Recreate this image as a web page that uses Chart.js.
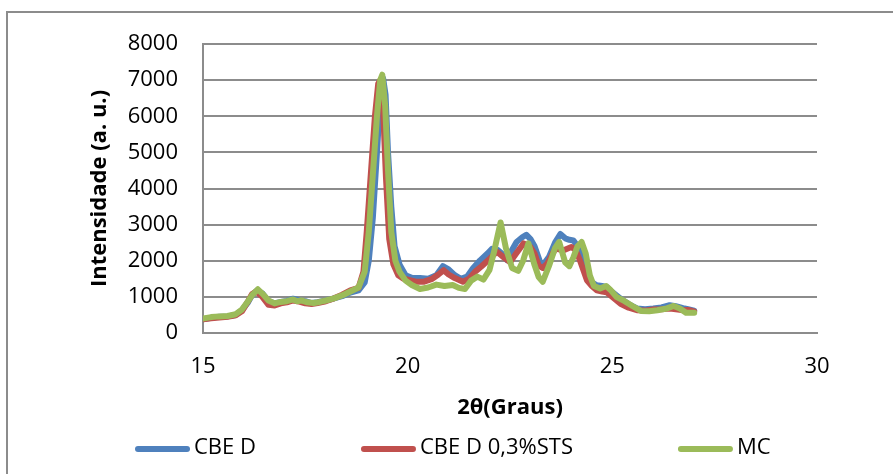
<!DOCTYPE html>
<html>
<head>
<meta charset="utf-8">
<script src="https://cdn.jsdelivr.net/npm/chart.js@4.4.1/dist/chart.umd.min.js"></script>
<style>
  html, body { margin: 0; padding: 0; background: #fff; }
  #wrap { position: relative; width: 893px; height: 474px; overflow: hidden; }
  #frame {
    position: absolute; left: 6px; top: 11px; width: 920px; height: 500px;
    border-top: 2px solid #8c8c8c; border-left: 2px solid #8c8c8c;
  }
  canvas { position: absolute; left: 0; top: 0; }
</style>
</head>
<body>
<div id="wrap">
  <div id="frame"></div>
  <canvas id="xrd-chart" width="893" height="474"></canvas>
</div>
<script>
/* global Chart */

// Difratogramas de raios X: intensidade x 2θ para as três amostras.

const FONT_FAMILY = "'Open Sans', sans-serif";
const GRID_COLOR = "#8c8c8c";

const SERIES_LABELS = ["CBE D", "CBE D 0,3%STS", "MC"];
const SERIES_COLORS = ["#4f81bd", "#c0504d", "#9bbb59"];

const X_TICKS = [15, 20, 25, 30];
const Y_TICKS = [0, 1000, 2000, 3000, 4000, 5000, 6000, 7000, 8000];

// CBE D
const thetaCbe = [
  15.0, 15.2, 15.4, 15.6, 15.8, 15.95, 16.1, 16.2, 16.32, 16.45, 16.6, 16.75,
  16.9, 17.05, 17.2, 17.35, 17.5, 17.65, 17.8, 18.0, 18.2, 18.4, 18.6, 18.8,
  18.95, 19.05, 19.15, 19.25, 19.33, 19.4, 19.46, 19.52, 19.6, 19.68, 19.8,
  19.95, 20.1, 20.3, 20.5, 20.7, 20.86, 21.0, 21.15, 21.3, 21.45, 21.6, 21.77,
  21.95, 22.06, 22.2, 22.3, 22.42, 22.55, 22.66, 22.8, 22.9, 23.0, 23.1,
  23.25, 23.35, 23.45, 23.6, 23.73, 23.85, 23.95, 24.05, 24.15, 24.25, 24.38,
  24.5, 24.62, 24.75, 24.86, 25.0, 25.2, 25.4, 25.6, 25.8, 26.0, 26.2, 26.4,
  26.55, 26.73, 26.85, 27.0,
];
const intensityCbe = [
  380, 420, 450, 460, 500, 630, 850, 1050, 1180, 1100, 880, 820,
  860, 890, 950, 900, 880, 830, 850, 900, 960, 1020, 1120, 1180,
  1400, 2000, 3200, 5000, 6500, 7050, 6600, 5000, 3500, 2400, 1900,
  1600, 1530, 1520, 1500, 1600, 1850, 1760, 1600, 1500, 1560, 1800, 2010,
  2200, 2330, 2300, 2200, 2020, 2300, 2520, 2650, 2720, 2600, 2400,
  1920, 1950, 2100, 2500, 2740, 2620, 2580, 2560, 2400, 2100, 1600,
  1400, 1320, 1300, 1270, 1130, 950, 800, 680, 660, 680, 710, 770,
  740, 690, 660, 620,
];

// CBE D 0,3%STS
const thetaSts = [
  15.0, 15.2, 15.4, 15.6, 15.8, 15.95, 16.1, 16.2, 16.3, 16.45, 16.6, 16.75,
  16.9, 17.05, 17.2, 17.35, 17.5, 17.65, 17.8, 18.0, 18.2, 18.4, 18.6, 18.8,
  18.92, 19.0, 19.1, 19.2, 19.28, 19.33, 19.4, 19.47, 19.55, 19.65, 19.77,
  19.9, 20.0, 20.2, 20.4, 20.6, 20.75, 20.88, 21.0, 21.15, 21.35, 21.5,
  21.65, 21.8, 22.0, 22.18, 22.34, 22.5, 22.65, 22.83, 23.0, 23.1, 23.2,
  23.3, 23.41, 23.61, 23.81, 24.0, 24.1, 24.21, 24.38, 24.5, 24.62, 24.75,
  24.86, 25.0, 25.2, 25.4, 25.6, 25.8, 26.0, 26.2, 26.41, 26.6, 26.73, 26.85,
  27.0,
];
const intensitySts = [
  380, 410, 430, 450, 490, 600, 880, 1080, 1150, 1000, 780, 760,
  820, 850, 900, 870, 820, 800, 830, 880, 960, 1060, 1180, 1250,
  1700, 2800, 4400, 6000, 6900, 7000, 6200, 4300, 2600, 1900, 1600,
  1500, 1480, 1420, 1420, 1500, 1620, 1740, 1620, 1520, 1420, 1500,
  1700, 1840, 2050, 2250, 2100, 1960, 2200, 2480, 2380, 2200, 1870,
  1800, 1920, 2340, 2290, 2380, 2300, 2010, 1460, 1300, 1180, 1150,
  1130, 1000, 810, 700, 630, 620, 650, 660, 680, 650, 630, 640,
  600,
];

// MC
const thetaMc = [
  15.0, 15.2, 15.4, 15.6, 15.8, 15.95, 16.1, 16.2, 16.34, 16.45, 16.6, 16.75,
  16.9, 17.05, 17.2, 17.3, 17.4, 17.55, 17.7, 17.85, 18.0, 18.2, 18.4, 18.6,
  18.8, 18.95, 19.05, 19.15, 19.25, 19.33, 19.38, 19.45, 19.52, 19.6, 19.7,
  19.8, 19.95, 20.1, 20.3, 20.5, 20.7, 20.9, 21.1, 21.25, 21.4, 21.55, 21.7,
  21.85, 22.0, 22.12, 22.27, 22.4, 22.55, 22.7, 22.82, 22.95, 23.1, 23.2,
  23.3, 23.45, 23.6, 23.7, 23.85, 23.95, 24.05, 24.15, 24.25, 24.35, 24.45,
  24.55, 24.7, 24.85, 24.95, 25.1, 25.3, 25.5, 25.7, 25.9, 26.1, 26.3, 26.5,
  26.65, 26.8, 27.0,
];
const intensityMc = [
  400, 440, 460, 470, 520, 650, 880, 1050, 1210, 1090, 900, 820,
  860, 880, 930, 880, 900, 850, 830, 860, 900, 960, 1040, 1150,
  1260, 1700, 2800, 4400, 6000, 7000, 7150, 6300, 4500, 2800, 2000,
  1700, 1450, 1330, 1220, 1260, 1340, 1300, 1330, 1250, 1220, 1450, 1560,
  1480, 1750, 2300, 3060, 2350, 1800, 1720, 2000, 2480, 1880, 1550,
  1420, 1850, 2350, 2520, 1950, 1850, 2100, 2400, 2520, 2200, 1600,
  1300, 1230, 1300, 1200, 1000, 880, 740, 610, 600, 630, 670, 750,
  680, 560, 560,
];

const SERIES_THETA = [thetaCbe, thetaSts, thetaMc];
const SERIES_INTENSITY = [intensityCbe, intensitySts, intensityMc];

Chart.defaults.font.family = FONT_FAMILY;
Chart.defaults.color = "#000";

function toPoints(xs, ys) {
  return xs.map((x, i) => ({ x, y: ys[i] }));
}

// Legend drawn as line swatches with wide, even gaps between entries.
const LEGEND_LEFT = 135;
const LEGEND_Y = 449;
const LEGEND_SWATCH = 55;
const LEGEND_GAP = 105;

const lineLegend = {
  id: "lineLegend",
  afterDraw(chart) {
    const { ctx } = chart;
    ctx.save();
    ctx.font = `22px ${FONT_FAMILY}`;
    ctx.textBaseline = "middle";
    ctx.textAlign = "left";
    let x = LEGEND_LEFT;
    chart.data.datasets.forEach((ds) => {
      ctx.strokeStyle = ds.borderColor;
      ctx.lineWidth = 6;
      ctx.lineCap = "round";
      ctx.beginPath();
      ctx.moveTo(x + 3, LEGEND_Y);
      ctx.lineTo(x + LEGEND_SWATCH - 3, LEGEND_Y);
      ctx.stroke();
      ctx.fillStyle = "#000";
      ctx.fillText(ds.label, x + LEGEND_SWATCH + 4, LEGEND_Y - 1);
      x += LEGEND_SWATCH + 4 + ctx.measureText(ds.label).width + LEGEND_GAP;
    });
    ctx.restore();
  },
};

const canvas = document.getElementById("xrd-chart");

new Chart(canvas, {
  type: "line",
  data: {
    datasets: SERIES_LABELS.map((label, i) => ({
      label,
      data: toPoints(SERIES_THETA[i], SERIES_INTENSITY[i]),
      borderColor: SERIES_COLORS[i],
      backgroundColor: SERIES_COLORS[i],
      // MC on top, then the STS sample, CBE D underneath
      order: SERIES_LABELS.length - i,
    })),
  },
  options: {
    responsive: false,
    animation: false,
    layout: { padding: { top: 44, right: 76, bottom: 40, left: 0 } },
    elements: {
      point: { radius: 0, hoverRadius: 0 },
      line: {
        borderWidth: 6,
        tension: 0,
        borderJoinStyle: "round",
        borderCapStyle: "round",
      },
    },
    plugins: {
      legend: { display: false },
      tooltip: { enabled: false },
    },
    scales: {
      x: {
        type: "linear",
        min: X_TICKS[0],
        max: X_TICKS[X_TICKS.length - 1],
        afterBuildTicks: (scale) => {
          scale.ticks = X_TICKS.map((value) => ({ value }));
        },
        ticks: {
          padding: 21,
          font: { size: 22 },
          color: "#000",
          callback: (value) => String(value),
        },
        grid: { display: false, drawTicks: false },
        border: { display: true, color: GRID_COLOR, width: 2 },
        title: {
          display: true,
          text: "2θ(Graus)",
          color: "#000",
          font: { size: 22, weight: "bold" },
          padding: { top: 0, bottom: 13 },
        },
        afterFit: (scale) => {
          scale.height = 101;
        },
      },
      y: {
        min: Y_TICKS[0],
        max: Y_TICKS[Y_TICKS.length - 1],
        afterBuildTicks: (scale) => {
          scale.ticks = Y_TICKS.map((value) => ({ value }));
        },
        ticks: {
          padding: 25,
          font: { size: 22 },
          color: "#000",
          callback: (value) => String(value),
        },
        grid: { color: GRID_COLOR, lineWidth: 2, drawTicks: false },
        border: { display: true, color: GRID_COLOR, width: 2 },
        title: {
          display: true,
          text: "Intensidade (a. u.)",
          color: "#000",
          font: { size: 22, weight: "bold" },
          padding: { top: 87, bottom: 0 },
        },
        afterFit: (scale) => {
          scale.width = 203;
        },
      },
    },
  },
  plugins: [lineLegend],
});
</script>
</body>
</html>
